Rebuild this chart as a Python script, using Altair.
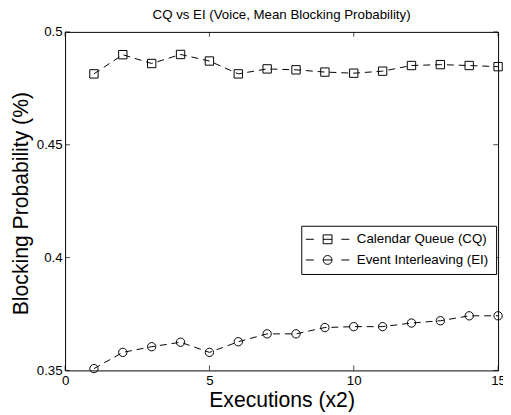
import altair as alt
import pandas as pd

# ---- data ----
executions = list(range(1, 16))
cq_values = [0.4814, 0.4899, 0.4860, 0.4900, 0.4871, 0.4814, 0.4836, 0.4832,
             0.4822, 0.4817, 0.4826, 0.4851, 0.4855, 0.4851, 0.4846]
ei_values = [0.3508, 0.3580, 0.3605, 0.3625, 0.3580, 0.3627, 0.3662, 0.3662,
             0.3690, 0.3694, 0.3694, 0.3710, 0.3720, 0.3742, 0.3742]
series_names = ["Calendar Queue (CQ)", "Event Interleaving (EI)"]
x_ticks = [0, 5, 10, 15]
y_ticks = [0.35, 0.4, 0.45, 0.5]

df = pd.DataFrame({
    "x": executions * 2,
    "y": cq_values + ei_values,
    "series": [series_names[0]] * 15 + [series_names[1]] * 15,
})
xt = pd.DataFrame({"x": x_ticks})
yt = pd.DataFrame({"y": y_ticks})

W, H = 440, 344
FONT = "Liberation Sans"

x_scale = alt.Scale(domain=[0, 15], nice=False, zero=False)
y_scale = alt.Scale(domain=[0.35, 0.5], nice=False, zero=False)

x_axis = alt.Axis(values=x_ticks, title="Executions (x2)", grid=False, ticks=False,
                  domain=False, labelFlush=False, labelOverlap=False,
                  labelPadding=3.5, labelFontSize=13.5, labelFont=FONT,
                  labelColor="black", titleFont=FONT, titleFontSize=21.5,
                  titleFontWeight="normal", titleColor="black",
                  titleBaseline="alphabetic", titleY=37, titleX=W / 2)
y_axis = alt.Axis(values=y_ticks, title="Blocking Probability (%)", grid=False,
                  ticks=False, domain=False, labelFlush=False, labelOverlap=False,
                  format="~g", labelPadding=3, labelFontSize=13.5, labelFont=FONT,
                  labelColor="black", titleFont=FONT, titleFontSize=21.5,
                  titleFontWeight="normal", titleColor="black",
                  titleBaseline="alphabetic", titleX=-38, titleY=H / 2 + 2,
                  titleAngle=-90)

X = alt.X("x:Q", scale=x_scale, axis=x_axis)
Y = alt.Y("y:Q", scale=y_scale, axis=y_axis)

sq_path = "M-1,-1H1V1H-1Z"
ci_path = "M-1,0A1,1 0 1,1 1,0A1,1 0 1,1 -1,0Z"
sq_leg = "M-4.9,0H-3.1M-1,-1H1V1H-1ZM-1,0H1M3.1,0H4.9"
ci_leg = "M-4.9,0H-3.1M-1,0A1,1 0 1,1 1,0A1,1 0 1,1 -1,0ZM-1,0H1M3.1,0H4.9"

lines = alt.Chart(df).mark_line(color="black", strokeWidth=1, strokeDash=[7, 5]).encode(
    x=X, y=Y, detail="series:N")

points = alt.Chart(df).mark_point(filled=False, color="black", strokeWidth=1,
                                  size=72, opacity=1).encode(
    x=X, y=Y,
    shape=alt.Shape("series:N", scale=alt.Scale(domain=series_names,
                                                range=[sq_path, ci_path]),
                    legend=None))

legend_layer = alt.Chart(df).transform_filter("false").mark_point(
    filled=False, color="black", strokeWidth=1, opacity=1).encode(
    x=X, y=Y,
    shape=alt.Shape("series:N",
                    scale=alt.Scale(domain=series_names, range=[sq_leg, ci_leg]),
                    legend=alt.Legend(title=None, orient="none", legendX=240,
                                      legendY=197, padding=7, rowPadding=6,
                                      symbolSize=81, symbolOffset=13,
                                      symbolStrokeColor="black",
                                      symbolFillColor="transparent",
                                      symbolStrokeWidth=1, labelOffset=23,
                                      labelFont=FONT, labelFontSize=13.5,
                                      labelColor="black", strokeColor="black",
                                      fillColor="white", cornerRadius=0)))

tick_b = alt.Chart(xt).mark_tick(color="black", thickness=1, size=5).encode(
    x=X, y=alt.value(H - 2.5))
tick_t = alt.Chart(xt).mark_tick(color="black", thickness=1, size=5).encode(
    x=X, y=alt.value(2.5))
tick_l = alt.Chart(yt).mark_tick(color="black", thickness=1, size=5).encode(
    y=Y, x=alt.value(2.5))
tick_r = alt.Chart(yt).mark_tick(color="black", thickness=1, size=5).encode(
    y=Y, x=alt.value(W - 2.5))

chart = alt.layer(lines, points, legend_layer, tick_b, tick_t, tick_l, tick_r).resolve_scale(
    shape="independent"
).properties(
    width=W, height=H,
    title=alt.TitleParams("CQ vs EI (Voice, Mean Blocking Probability)",
                          font=FONT, fontSize=13.5, fontWeight="normal",
                          color="black", anchor="middle", offset=4),
    autosize=alt.AutoSizeParams(type="none"),
    padding={"left": 58, "top": 21, "right": 5, "bottom": 41},
    background="white",
).configure_view(stroke="black", strokeWidth=1)

chart.save("out.html", embed_options={"renderer": "svg", "actions": False})
